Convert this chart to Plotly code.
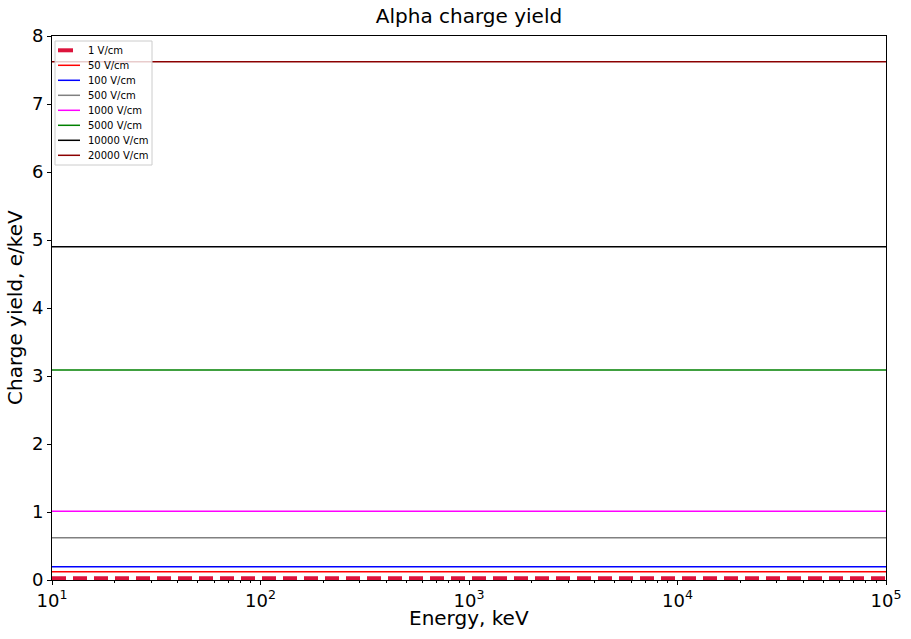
import plotly.graph_objects as go

energies_kev = [10, 100, 1000, 10000, 100000]
field_labels = ["1 V/cm", "50 V/cm", "100 V/cm", "500 V/cm", "1000 V/cm",
                "5000 V/cm", "10000 V/cm", "20000 V/cm"]
charge_yields = [0.025, 0.12, 0.195, 0.62, 1.01, 3.09, 4.90, 7.62]
colors = ["#DC143C", "#FF0000", "#0000FF", "#808080", "#FF00FF",
          "#008000", "#000000", "#8B0000"]

x_tickvals = [10, 100, 1000, 10000, 100000]
x_ticktext = ["10<sup>1</sup>", "10<sup>2</sup>", "10<sup>3</sup>",
              "10<sup>4</sup>", "10<sup>5</sup>"]
y_tickvals = [0, 1, 2, 3, 4, 5, 6, 7, 8]

W, H = 911, 639
L, R, T, B = 52, 25, 36, 59
PW, PH = W - L - R, H - T - B


def px_x(px):
    return (px - L) / PW


def px_y(py):
    return (H - B - py) / PH


font = "DejaVu Sans"
styles = []
for i, col in enumerate(colors):
    if i == 0:
        styles.append(dict(color=col, width=4, dash="14px,7px"))
    else:
        styles.append(dict(color=col, width=1.5))

fig = go.Figure()
for lab, val, st in zip(field_labels, charge_yields, styles):
    fig.add_trace(go.Scatter(x=energies_kev, y=[val] * len(energies_kev),
                             mode="lines", name=lab, line=st,
                             showlegend=False))

# invisible trace to carry the minor-tick axis
fig.add_trace(go.Scatter(x=[10, 100000], y=[0, 0], xaxis="x2", mode="lines",
                         line=dict(width=0), hoverinfo="skip",
                         showlegend=False))

minor_vals = [m * 10 ** e for e in range(1, 5) for m in range(2, 10)]

# legend drawn manually (matplotlib-style compact legend)
shapes = [dict(type="rect", xref="paper", yref="paper",
               x0=px_x(55), x1=px_x(152), y0=px_y(165), y1=px_y(41),
               fillcolor="rgba(255,255,255,0.8)",
               line=dict(color="#cccccc", width=1), layer="above")]
annotations = []
for i, (lab, st) in enumerate(zip(field_labels, styles)):
    yc = px_y(50.3 + 15 * i)
    sl = dict(color=st["color"], width=st["width"])
    shapes.append(dict(type="line", xref="paper", yref="paper",
                       x0=px_x(58), x1=px_x(80) if i else px_x(73),
                       y0=yc, y1=yc, line=sl, layer="above"))
    annotations.append(dict(text=lab, xref="paper", yref="paper",
                            x=px_x(86), y=yc, xanchor="left", yanchor="middle",
                            showarrow=False,
                            font=dict(family=font, size=10, color="black")))

annotations.append(dict(text="Energy, keV", xref="paper", yref="paper",
                        x=0.5, y=px_y(618), xanchor="center", yanchor="middle",
                        showarrow=False,
                        font=dict(family=font, size=20, color="black")))
annotations.append(dict(text="Charge yield, e/keV", xref="paper", yref="paper",
                        x=px_x(15), y=0.5, xanchor="center", yanchor="middle",
                        textangle=-90, showarrow=False,
                        font=dict(family=font, size=20, color="black")))

fig.update_layout(
    width=W, height=H,
    margin=dict(l=L, r=R, t=T, b=B),
    paper_bgcolor="white", plot_bgcolor="white",
    title=dict(text="Alpha charge yield", x=0.5, xanchor="center",
               xref="paper",
               y=1 - 16 / H, yanchor="middle",
               font=dict(family=font, size=20, color="black")),
    font=dict(family=font, color="black"),
    showlegend=False,
    shapes=shapes,
    annotations=annotations,
    xaxis=dict(type="log", range=[1, 5], tickvals=x_tickvals,
               ticktext=x_ticktext, ticks="outside", ticklen=4,
               tickcolor="black", showgrid=False, zeroline=False,
               showline=True, linecolor="black", linewidth=1, mirror=True,
               automargin=False,
               tickfont=dict(family=font, size=18)),
    xaxis2=dict(type="log", range=[1, 5], overlaying="x", side="bottom",
                tickvals=minor_vals, ticks="outside", ticklen=2,
                tickcolor="black", showticklabels=False, showgrid=False,
                zeroline=False, showline=False, automargin=False),
    yaxis=dict(range=[0, 8], tickvals=y_tickvals, ticks="outside", ticklen=4,
               tickcolor="black", showgrid=False, zeroline=False,
               showline=True, linecolor="black", linewidth=1, mirror=True,
               automargin=False,
               tickfont=dict(family=font, size=18)),
)

fig.write_html("out.html", config={"displayModeBar": False},
               post_script="document.body.style.margin='0px';")
